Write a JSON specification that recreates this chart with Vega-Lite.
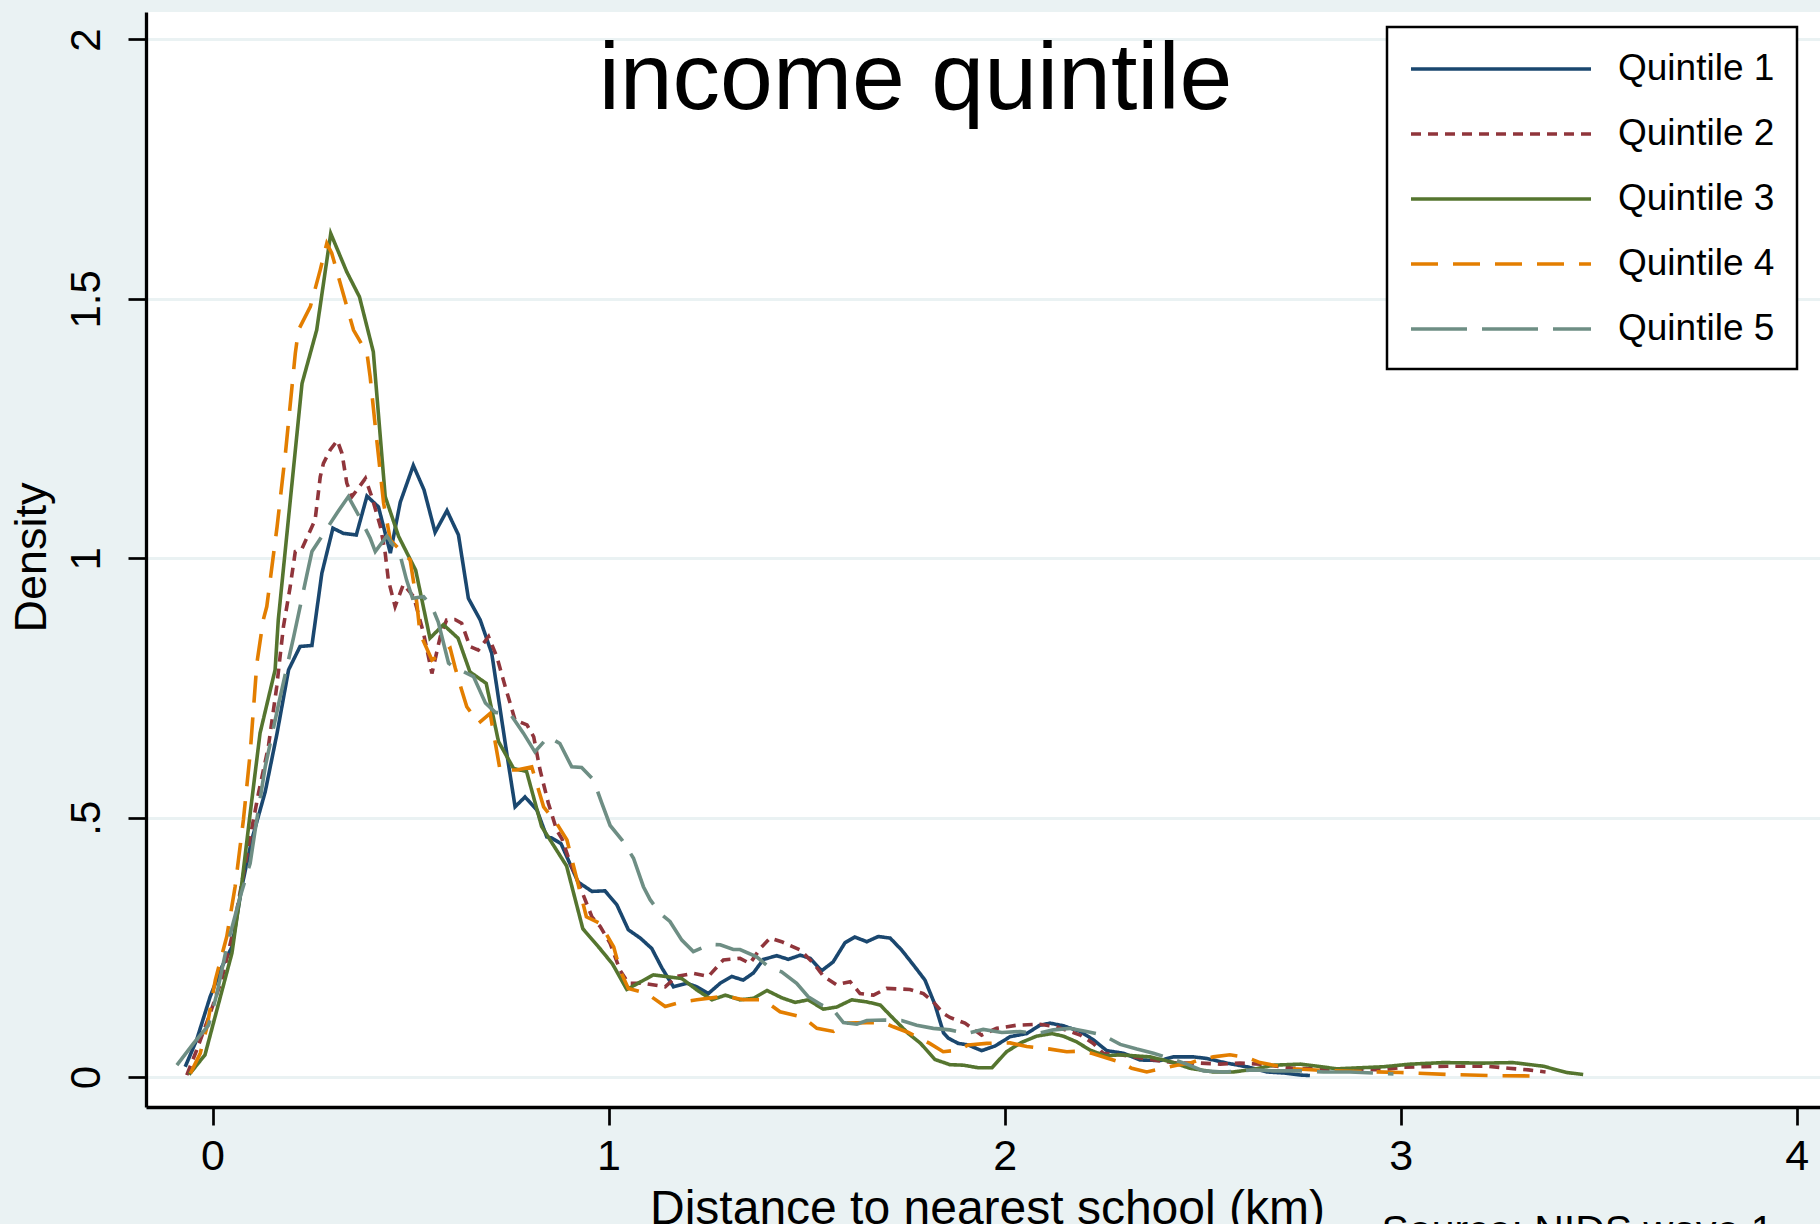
{
"$schema":"https://vega.github.io/schema/vega-lite/v6.json",
"width":1674,"height":1095,
"autosize":{"type":"none"},
"padding":{"left":146,"top":12,"right":0,"bottom":117},
"background":"#eaf2f3",
"config":{"view":{"fill":"white","stroke":null},"font":"Liberation Sans",
"legend":{"orient":"none","legendX":1241,"legendY":15,"title":null,"symbolType":"M-1,0H9","symbolSize":1296,"symbolStrokeWidth":3.5,"symbolFillColor":"transparent","labelFontSize":37,"labelOffset":169,"labelFont":"Liberation Sans","labelColor":"#000","padding":22,"rowPadding":27,"strokeColor":"#000","strokeWidth":2.5,"fillColor":"white","labelLimit":0}},
"data":{"values":[
{"q":"Quintile 1","x":-0.069,"y":0.020},{"q":"Quintile 1","x":-0.040,"y":0.072},{"q":"Quintile 1","x":-0.006,"y":0.155},{"q":"Quintile 1","x":0.024,"y":0.213},{"q":"Quintile 1","x":0.049,"y":0.251},{"q":"Quintile 1","x":0.074,"y":0.367},{"q":"Quintile 1","x":0.099,"y":0.457},{"q":"Quintile 1","x":0.133,"y":0.550},{"q":"Quintile 1","x":0.163,"y":0.663},{"q":"Quintile 1","x":0.192,"y":0.785},{"q":"Quintile 1","x":0.221,"y":0.830},{"q":"Quintile 1","x":0.251,"y":0.832},{"q":"Quintile 1","x":0.276,"y":0.971},{"q":"Quintile 1","x":0.304,"y":1.058},{"q":"Quintile 1","x":0.331,"y":1.048},{"q":"Quintile 1","x":0.363,"y":1.045},{"q":"Quintile 1","x":0.390,"y":1.120},{"q":"Quintile 1","x":0.419,"y":1.099},{"q":"Quintile 1","x":0.449,"y":1.010},{"q":"Quintile 1","x":0.474,"y":1.108},{"q":"Quintile 1","x":0.507,"y":1.179},{"q":"Quintile 1","x":0.534,"y":1.132},{"q":"Quintile 1","x":0.562,"y":1.050},{"q":"Quintile 1","x":0.592,"y":1.092},{"q":"Quintile 1","x":0.621,"y":1.045},{"q":"Quintile 1","x":0.646,"y":0.923},{"q":"Quintile 1","x":0.676,"y":0.881},{"q":"Quintile 1","x":0.705,"y":0.817},{"q":"Quintile 1","x":0.743,"y":0.624},{"q":"Quintile 1","x":0.764,"y":0.521},{"q":"Quintile 1","x":0.789,"y":0.540},{"q":"Quintile 1","x":0.819,"y":0.515},{"q":"Quintile 1","x":0.844,"y":0.463},{"q":"Quintile 1","x":0.856,"y":0.461},{"q":"Quintile 1","x":0.880,"y":0.450},{"q":"Quintile 1","x":0.923,"y":0.376},{"q":"Quintile 1","x":0.958,"y":0.358},{"q":"Quintile 1","x":0.991,"y":0.359},{"q":"Quintile 1","x":1.021,"y":0.332},{"q":"Quintile 1","x":1.050,"y":0.284},{"q":"Quintile 1","x":1.080,"y":0.268},{"q":"Quintile 1","x":1.109,"y":0.248},{"q":"Quintile 1","x":1.135,"y":0.210},{"q":"Quintile 1","x":1.164,"y":0.174},{"q":"Quintile 1","x":1.198,"y":0.181},{"q":"Quintile 1","x":1.223,"y":0.174},{"q":"Quintile 1","x":1.252,"y":0.161},{"q":"Quintile 1","x":1.282,"y":0.181},{"q":"Quintile 1","x":1.311,"y":0.194},{"q":"Quintile 1","x":1.340,"y":0.187},{"q":"Quintile 1","x":1.366,"y":0.201},{"q":"Quintile 1","x":1.391,"y":0.227},{"q":"Quintile 1","x":1.425,"y":0.234},{"q":"Quintile 1","x":1.454,"y":0.227},{"q":"Quintile 1","x":1.484,"y":0.235},{"q":"Quintile 1","x":1.509,"y":0.229},{"q":"Quintile 1","x":1.538,"y":0.205},{"q":"Quintile 1","x":1.567,"y":0.222},{"q":"Quintile 1","x":1.597,"y":0.259},{"q":"Quintile 1","x":1.622,"y":0.270},{"q":"Quintile 1","x":1.652,"y":0.261},{"q":"Quintile 1","x":1.681,"y":0.271},{"q":"Quintile 1","x":1.711,"y":0.268},{"q":"Quintile 1","x":1.740,"y":0.245},{"q":"Quintile 1","x":1.770,"y":0.216},{"q":"Quintile 1","x":1.799,"y":0.187},{"q":"Quintile 1","x":1.824,"y":0.140},{"q":"Quintile 1","x":1.846,"y":0.085},{"q":"Quintile 1","x":1.858,"y":0.075},{"q":"Quintile 1","x":1.883,"y":0.065},{"q":"Quintile 1","x":1.908,"y":0.062},{"q":"Quintile 1","x":1.942,"y":0.051},{"q":"Quintile 1","x":1.976,"y":0.060},{"q":"Quintile 1","x":2.014,"y":0.078},{"q":"Quintile 1","x":2.056,"y":0.084},{"q":"Quintile 1","x":2.089,"y":0.100},{"q":"Quintile 1","x":2.115,"y":0.104},{"q":"Quintile 1","x":2.148,"y":0.099},{"q":"Quintile 1","x":2.191,"y":0.088},{"q":"Quintile 1","x":2.224,"y":0.072},{"q":"Quintile 1","x":2.258,"y":0.051},{"q":"Quintile 1","x":2.300,"y":0.046},{"q":"Quintile 1","x":2.342,"y":0.033},{"q":"Quintile 1","x":2.393,"y":0.032},{"q":"Quintile 1","x":2.426,"y":0.039},{"q":"Quintile 1","x":2.477,"y":0.039},{"q":"Quintile 1","x":2.510,"y":0.036},{"q":"Quintile 1","x":2.561,"y":0.027},{"q":"Quintile 1","x":2.611,"y":0.020},{"q":"Quintile 1","x":2.662,"y":0.010},{"q":"Quintile 1","x":2.704,"y":0.008},{"q":"Quintile 1","x":2.747,"y":0.004},{"q":"Quintile 1","x":2.771,"y":0.003},
{"q":"Quintile 2","x":-0.065,"y":0.004},{"q":"Quintile 2","x":-0.040,"y":0.052},{"q":"Quintile 2","x":-0.006,"y":0.123},{"q":"Quintile 2","x":0.023,"y":0.187},{"q":"Quintile 2","x":0.049,"y":0.271},{"q":"Quintile 2","x":0.074,"y":0.374},{"q":"Quintile 2","x":0.095,"y":0.463},{"q":"Quintile 2","x":0.116,"y":0.547},{"q":"Quintile 2","x":0.141,"y":0.637},{"q":"Quintile 2","x":0.162,"y":0.752},{"q":"Quintile 2","x":0.179,"y":0.868},{"q":"Quintile 2","x":0.196,"y":0.945},{"q":"Quintile 2","x":0.209,"y":1.013},{"q":"Quintile 2","x":0.226,"y":1.019},{"q":"Quintile 2","x":0.259,"y":1.074},{"q":"Quintile 2","x":0.272,"y":1.157},{"q":"Quintile 2","x":0.280,"y":1.183},{"q":"Quintile 2","x":0.297,"y":1.209},{"q":"Quintile 2","x":0.315,"y":1.227},{"q":"Quintile 2","x":0.327,"y":1.202},{"q":"Quintile 2","x":0.339,"y":1.145},{"q":"Quintile 2","x":0.352,"y":1.119},{"q":"Quintile 2","x":0.365,"y":1.132},{"q":"Quintile 2","x":0.386,"y":1.154},{"q":"Quintile 2","x":0.402,"y":1.119},{"q":"Quintile 2","x":0.424,"y":1.061},{"q":"Quintile 2","x":0.436,"y":1.010},{"q":"Quintile 2","x":0.444,"y":0.958},{"q":"Quintile 2","x":0.461,"y":0.907},{"q":"Quintile 2","x":0.482,"y":0.950},{"q":"Quintile 2","x":0.508,"y":0.926},{"q":"Quintile 2","x":0.533,"y":0.855},{"q":"Quintile 2","x":0.554,"y":0.778},{"q":"Quintile 2","x":0.575,"y":0.849},{"q":"Quintile 2","x":0.591,"y":0.881},{"q":"Quintile 2","x":0.612,"y":0.882},{"q":"Quintile 2","x":0.629,"y":0.875},{"q":"Quintile 2","x":0.650,"y":0.830},{"q":"Quintile 2","x":0.671,"y":0.823},{"q":"Quintile 2","x":0.697,"y":0.849},{"q":"Quintile 2","x":0.718,"y":0.810},{"q":"Quintile 2","x":0.739,"y":0.753},{"q":"Quintile 2","x":0.764,"y":0.688},{"q":"Quintile 2","x":0.794,"y":0.679},{"q":"Quintile 2","x":0.811,"y":0.656},{"q":"Quintile 2","x":0.827,"y":0.592},{"q":"Quintile 2","x":0.848,"y":0.528},{"q":"Quintile 2","x":0.869,"y":0.476},{"q":"Quintile 2","x":0.882,"y":0.460},{"q":"Quintile 2","x":0.900,"y":0.420},{"q":"Quintile 2","x":0.958,"y":0.309},{"q":"Quintile 2","x":0.979,"y":0.290},{"q":"Quintile 2","x":1.004,"y":0.258},{"q":"Quintile 2","x":1.029,"y":0.206},{"q":"Quintile 2","x":1.050,"y":0.181},{"q":"Quintile 2","x":1.088,"y":0.181},{"q":"Quintile 2","x":1.143,"y":0.174},{"q":"Quintile 2","x":1.172,"y":0.194},{"q":"Quintile 2","x":1.214,"y":0.200},{"q":"Quintile 2","x":1.252,"y":0.194},{"q":"Quintile 2","x":1.290,"y":0.226},{"q":"Quintile 2","x":1.332,"y":0.229},{"q":"Quintile 2","x":1.357,"y":0.219},{"q":"Quintile 2","x":1.383,"y":0.248},{"q":"Quintile 2","x":1.408,"y":0.268},{"q":"Quintile 2","x":1.437,"y":0.261},{"q":"Quintile 2","x":1.484,"y":0.245},{"q":"Quintile 2","x":1.518,"y":0.219},{"q":"Quintile 2","x":1.543,"y":0.194},{"q":"Quintile 2","x":1.576,"y":0.178},{"q":"Quintile 2","x":1.610,"y":0.184},{"q":"Quintile 2","x":1.635,"y":0.161},{"q":"Quintile 2","x":1.669,"y":0.158},{"q":"Quintile 2","x":1.702,"y":0.171},{"q":"Quintile 2","x":1.761,"y":0.169},{"q":"Quintile 2","x":1.795,"y":0.161},{"q":"Quintile 2","x":1.820,"y":0.145},{"q":"Quintile 2","x":1.845,"y":0.123},{"q":"Quintile 2","x":1.862,"y":0.115},{"q":"Quintile 2","x":1.900,"y":0.104},{"q":"Quintile 2","x":1.942,"y":0.081},{"q":"Quintile 2","x":1.980,"y":0.094},{"q":"Quintile 2","x":2.030,"y":0.100},{"q":"Quintile 2","x":2.089,"y":0.102},{"q":"Quintile 2","x":2.131,"y":0.097},{"q":"Quintile 2","x":2.191,"y":0.081},{"q":"Quintile 2","x":2.224,"y":0.065},{"q":"Quintile 2","x":2.249,"y":0.046},{"q":"Quintile 2","x":2.292,"y":0.043},{"q":"Quintile 2","x":2.376,"y":0.033},{"q":"Quintile 2","x":2.435,"y":0.027},{"q":"Quintile 2","x":2.494,"y":0.027},{"q":"Quintile 2","x":2.544,"y":0.025},{"q":"Quintile 2","x":2.595,"y":0.027},{"q":"Quintile 2","x":2.645,"y":0.025},{"q":"Quintile 2","x":2.729,"y":0.017},{"q":"Quintile 2","x":2.850,"y":0.015},{"q":"Quintile 2","x":2.957,"y":0.014},{"q":"Quintile 2","x":3.007,"y":0.019},{"q":"Quintile 2","x":3.058,"y":0.020},{"q":"Quintile 2","x":3.117,"y":0.021},{"q":"Quintile 2","x":3.218,"y":0.021},{"q":"Quintile 2","x":3.273,"y":0.017},{"q":"Quintile 2","x":3.323,"y":0.014},{"q":"Quintile 2","x":3.366,"y":0.010},
{"q":"Quintile 3","x":-0.059,"y":0.005},{"q":"Quintile 3","x":-0.019,"y":0.043},{"q":"Quintile 3","x":0.049,"y":0.239},{"q":"Quintile 3","x":0.074,"y":0.374},{"q":"Quintile 3","x":0.095,"y":0.508},{"q":"Quintile 3","x":0.120,"y":0.663},{"q":"Quintile 3","x":0.158,"y":0.785},{"q":"Quintile 3","x":0.166,"y":0.881},{"q":"Quintile 3","x":0.226,"y":1.337},{"q":"Quintile 3","x":0.263,"y":1.440},{"q":"Quintile 3","x":0.2985,"y":1.626},{"q":"Quintile 3","x":0.339,"y":1.552},{"q":"Quintile 3","x":0.371,"y":1.504},{"q":"Quintile 3","x":0.406,"y":1.398},{"q":"Quintile 3","x":0.436,"y":1.119},{"q":"Quintile 3","x":0.470,"y":1.042},{"q":"Quintile 3","x":0.513,"y":0.977},{"q":"Quintile 3","x":0.549,"y":0.846},{"q":"Quintile 3","x":0.583,"y":0.872},{"q":"Quintile 3","x":0.620,"y":0.846},{"q":"Quintile 3","x":0.650,"y":0.781},{"q":"Quintile 3","x":0.691,"y":0.759},{"q":"Quintile 3","x":0.722,"y":0.647},{"q":"Quintile 3","x":0.760,"y":0.595},{"q":"Quintile 3","x":0.793,"y":0.589},{"q":"Quintile 3","x":0.831,"y":0.483},{"q":"Quintile 3","x":0.894,"y":0.407},{"q":"Quintile 3","x":0.935,"y":0.286},{"q":"Quintile 3","x":0.978,"y":0.248},{"q":"Quintile 3","x":1.010,"y":0.218},{"q":"Quintile 3","x":1.046,"y":0.169},{"q":"Quintile 3","x":1.113,"y":0.197},{"q":"Quintile 3","x":1.185,"y":0.190},{"q":"Quintile 3","x":1.223,"y":0.168},{"q":"Quintile 3","x":1.261,"y":0.149},{"q":"Quintile 3","x":1.295,"y":0.158},{"q":"Quintile 3","x":1.332,"y":0.149},{"q":"Quintile 3","x":1.366,"y":0.152},{"q":"Quintile 3","x":1.400,"y":0.167},{"q":"Quintile 3","x":1.437,"y":0.153},{"q":"Quintile 3","x":1.471,"y":0.144},{"q":"Quintile 3","x":1.504,"y":0.149},{"q":"Quintile 3","x":1.542,"y":0.131},{"q":"Quintile 3","x":1.576,"y":0.135},{"q":"Quintile 3","x":1.614,"y":0.149},{"q":"Quintile 3","x":1.652,"y":0.145},{"q":"Quintile 3","x":1.686,"y":0.139},{"q":"Quintile 3","x":1.719,"y":0.113},{"q":"Quintile 3","x":1.757,"y":0.084},{"q":"Quintile 3","x":1.788,"y":0.065},{"q":"Quintile 3","x":1.824,"y":0.034},{"q":"Quintile 3","x":1.862,"y":0.024},{"q":"Quintile 3","x":1.896,"y":0.023},{"q":"Quintile 3","x":1.934,"y":0.018},{"q":"Quintile 3","x":1.968,"y":0.018},{"q":"Quintile 3","x":2.005,"y":0.049},{"q":"Quintile 3","x":2.043,"y":0.067},{"q":"Quintile 3","x":2.081,"y":0.079},{"q":"Quintile 3","x":2.119,"y":0.084},{"q":"Quintile 3","x":2.148,"y":0.079},{"q":"Quintile 3","x":2.182,"y":0.068},{"q":"Quintile 3","x":2.216,"y":0.052},{"q":"Quintile 3","x":2.254,"y":0.041},{"q":"Quintile 3","x":2.292,"y":0.043},{"q":"Quintile 3","x":2.367,"y":0.039},{"q":"Quintile 3","x":2.418,"y":0.030},{"q":"Quintile 3","x":2.468,"y":0.017},{"q":"Quintile 3","x":2.527,"y":0.010},{"q":"Quintile 3","x":2.578,"y":0.010},{"q":"Quintile 3","x":2.628,"y":0.015},{"q":"Quintile 3","x":2.679,"y":0.023},{"q":"Quintile 3","x":2.747,"y":0.025},{"q":"Quintile 3","x":2.780,"y":0.022},{"q":"Quintile 3","x":2.839,"y":0.016},{"q":"Quintile 3","x":2.957,"y":0.020},{"q":"Quintile 3","x":3.024,"y":0.025},{"q":"Quintile 3","x":3.108,"y":0.028},{"q":"Quintile 3","x":3.209,"y":0.027},{"q":"Quintile 3","x":3.284,"y":0.028},{"q":"Quintile 3","x":3.360,"y":0.021},{"q":"Quintile 3","x":3.419,"y":0.009},{"q":"Quintile 3","x":3.461,"y":0.005},
{"q":"Quintile 4","x":-0.056,"y":0.007},{"q":"Quintile 4","x":-0.031,"y":0.046},{"q":"Quintile 4","x":-0.014,"y":0.097},{"q":"Quintile 4","x":0.007,"y":0.187},{"q":"Quintile 4","x":0.036,"y":0.271},{"q":"Quintile 4","x":0.057,"y":0.367},{"q":"Quintile 4","x":0.078,"y":0.496},{"q":"Quintile 4","x":0.095,"y":0.624},{"q":"Quintile 4","x":0.112,"y":0.798},{"q":"Quintile 4","x":0.128,"y":0.881},{"q":"Quintile 4","x":0.137,"y":0.907},{"q":"Quintile 4","x":0.163,"y":1.061},{"q":"Quintile 4","x":0.184,"y":1.202},{"q":"Quintile 4","x":0.209,"y":1.395},{"q":"Quintile 4","x":0.217,"y":1.440},{"q":"Quintile 4","x":0.247,"y":1.485},{"q":"Quintile 4","x":0.272,"y":1.556},{"q":"Quintile 4","x":0.2885,"y":1.607},{"q":"Quintile 4","x":0.301,"y":1.588},{"q":"Quintile 4","x":0.356,"y":1.440},{"q":"Quintile 4","x":0.390,"y":1.395},{"q":"Quintile 4","x":0.398,"y":1.350},{"q":"Quintile 4","x":0.411,"y":1.254},{"q":"Quintile 4","x":0.432,"y":1.106},{"q":"Quintile 4","x":0.449,"y":1.035},{"q":"Quintile 4","x":0.499,"y":0.997},{"q":"Quintile 4","x":0.516,"y":0.913},{"q":"Quintile 4","x":0.524,"y":0.855},{"q":"Quintile 4","x":0.554,"y":0.804},{"q":"Quintile 4","x":0.600,"y":0.827},{"q":"Quintile 4","x":0.613,"y":0.788},{"q":"Quintile 4","x":0.629,"y":0.746},{"q":"Quintile 4","x":0.642,"y":0.714},{"q":"Quintile 4","x":0.672,"y":0.682},{"q":"Quintile 4","x":0.701,"y":0.701},{"q":"Quintile 4","x":0.726,"y":0.592},{"q":"Quintile 4","x":0.768,"y":0.592},{"q":"Quintile 4","x":0.806,"y":0.598},{"q":"Quintile 4","x":0.836,"y":0.521},{"q":"Quintile 4","x":0.869,"y":0.489},{"q":"Quintile 4","x":0.895,"y":0.457},{"q":"Quintile 4","x":0.944,"y":0.309},{"q":"Quintile 4","x":0.979,"y":0.296},{"q":"Quintile 4","x":1.013,"y":0.251},{"q":"Quintile 4","x":1.029,"y":0.206},{"q":"Quintile 4","x":1.050,"y":0.171},{"q":"Quintile 4","x":1.097,"y":0.161},{"q":"Quintile 4","x":1.143,"y":0.136},{"q":"Quintile 4","x":1.185,"y":0.145},{"q":"Quintile 4","x":1.223,"y":0.149},{"q":"Quintile 4","x":1.294,"y":0.156},{"q":"Quintile 4","x":1.341,"y":0.149},{"q":"Quintile 4","x":1.391,"y":0.149},{"q":"Quintile 4","x":1.433,"y":0.126},{"q":"Quintile 4","x":1.492,"y":0.115},{"q":"Quintile 4","x":1.526,"y":0.094},{"q":"Quintile 4","x":1.568,"y":0.088},{"q":"Quintile 4","x":1.601,"y":0.104},{"q":"Quintile 4","x":1.652,"y":0.105},{"q":"Quintile 4","x":1.694,"y":0.105},{"q":"Quintile 4","x":1.719,"y":0.097},{"q":"Quintile 4","x":1.757,"y":0.086},{"q":"Quintile 4","x":1.811,"y":0.065},{"q":"Quintile 4","x":1.845,"y":0.049},{"q":"Quintile 4","x":1.883,"y":0.052},{"q":"Quintile 4","x":1.908,"y":0.062},{"q":"Quintile 4","x":1.955,"y":0.065},{"q":"Quintile 4","x":2.014,"y":0.066},{"q":"Quintile 4","x":2.056,"y":0.059},{"q":"Quintile 4","x":2.115,"y":0.054},{"q":"Quintile 4","x":2.157,"y":0.049},{"q":"Quintile 4","x":2.191,"y":0.050},{"q":"Quintile 4","x":2.220,"y":0.046},{"q":"Quintile 4","x":2.262,"y":0.036},{"q":"Quintile 4","x":2.296,"y":0.028},{"q":"Quintile 4","x":2.321,"y":0.017},{"q":"Quintile 4","x":2.359,"y":0.010},{"q":"Quintile 4","x":2.401,"y":0.017},{"q":"Quintile 4","x":2.435,"y":0.023},{"q":"Quintile 4","x":2.468,"y":0.027},{"q":"Quintile 4","x":2.494,"y":0.034},{"q":"Quintile 4","x":2.527,"y":0.039},{"q":"Quintile 4","x":2.569,"y":0.043},{"q":"Quintile 4","x":2.611,"y":0.038},{"q":"Quintile 4","x":2.645,"y":0.028},{"q":"Quintile 4","x":2.679,"y":0.023},{"q":"Quintile 4","x":2.729,"y":0.016},{"q":"Quintile 4","x":2.830,"y":0.012},{"q":"Quintile 4","x":2.999,"y":0.009},{"q":"Quintile 4","x":3.125,"y":0.005},{"q":"Quintile 4","x":3.226,"y":0.003},{"q":"Quintile 4","x":3.361,"y":0.002},
{"q":"Quintile 5","x":-0.090,"y":0.023},{"q":"Quintile 5","x":-0.048,"y":0.065},{"q":"Quintile 5","x":-0.010,"y":0.100},{"q":"Quintile 5","x":0.011,"y":0.161},{"q":"Quintile 5","x":0.036,"y":0.251},{"q":"Quintile 5","x":0.070,"y":0.348},{"q":"Quintile 5","x":0.095,"y":0.412},{"q":"Quintile 5","x":0.107,"y":0.473},{"q":"Quintile 5","x":0.133,"y":0.598},{"q":"Quintile 5","x":0.167,"y":0.720},{"q":"Quintile 5","x":0.205,"y":0.849},{"q":"Quintile 5","x":0.239,"y":0.971},{"q":"Quintile 5","x":0.251,"y":1.013},{"q":"Quintile 5","x":0.314,"y":1.087},{"q":"Quintile 5","x":0.343,"y":1.119},{"q":"Quintile 5","x":0.373,"y":1.077},{"q":"Quintile 5","x":0.398,"y":1.039},{"q":"Quintile 5","x":0.411,"y":1.013},{"q":"Quintile 5","x":0.440,"y":1.043},{"q":"Quintile 5","x":0.474,"y":1.005},{"q":"Quintile 5","x":0.490,"y":0.958},{"q":"Quintile 5","x":0.505,"y":0.923},{"q":"Quintile 5","x":0.533,"y":0.926},{"q":"Quintile 5","x":0.554,"y":0.907},{"q":"Quintile 5","x":0.570,"y":0.877},{"q":"Quintile 5","x":0.596,"y":0.798},{"q":"Quintile 5","x":0.608,"y":0.791},{"q":"Quintile 5","x":0.659,"y":0.772},{"q":"Quintile 5","x":0.689,"y":0.721},{"q":"Quintile 5","x":0.714,"y":0.703},{"q":"Quintile 5","x":0.751,"y":0.701},{"q":"Quintile 5","x":0.785,"y":0.663},{"q":"Quintile 5","x":0.814,"y":0.627},{"q":"Quintile 5","x":0.848,"y":0.656},{"q":"Quintile 5","x":0.877,"y":0.643},{"q":"Quintile 5","x":0.907,"y":0.598},{"q":"Quintile 5","x":0.932,"y":0.597},{"q":"Quintile 5","x":0.962,"y":0.573},{"q":"Quintile 5","x":0.983,"y":0.528},{"q":"Quintile 5","x":1.004,"y":0.485},{"q":"Quintile 5","x":1.034,"y":0.457},{"q":"Quintile 5","x":1.063,"y":0.422},{"q":"Quintile 5","x":1.088,"y":0.367},{"q":"Quintile 5","x":1.105,"y":0.342},{"q":"Quintile 5","x":1.130,"y":0.316},{"q":"Quintile 5","x":1.155,"y":0.300},{"q":"Quintile 5","x":1.185,"y":0.264},{"q":"Quintile 5","x":1.214,"y":0.242},{"q":"Quintile 5","x":1.256,"y":0.256},{"q":"Quintile 5","x":1.282,"y":0.255},{"q":"Quintile 5","x":1.315,"y":0.246},{"q":"Quintile 5","x":1.332,"y":0.246},{"q":"Quintile 5","x":1.374,"y":0.232},{"q":"Quintile 5","x":1.408,"y":0.210},{"q":"Quintile 5","x":1.437,"y":0.203},{"q":"Quintile 5","x":1.475,"y":0.181},{"q":"Quintile 5","x":1.504,"y":0.155},{"q":"Quintile 5","x":1.538,"y":0.139},{"q":"Quintile 5","x":1.568,"y":0.129},{"q":"Quintile 5","x":1.593,"y":0.105},{"q":"Quintile 5","x":1.627,"y":0.102},{"q":"Quintile 5","x":1.652,"y":0.109},{"q":"Quintile 5","x":1.694,"y":0.110},{"q":"Quintile 5","x":1.740,"y":0.109},{"q":"Quintile 5","x":1.778,"y":0.100},{"q":"Quintile 5","x":1.820,"y":0.094},{"q":"Quintile 5","x":1.862,"y":0.091},{"q":"Quintile 5","x":1.904,"y":0.084},{"q":"Quintile 5","x":1.946,"y":0.092},{"q":"Quintile 5","x":1.993,"y":0.086},{"q":"Quintile 5","x":2.039,"y":0.088},{"q":"Quintile 5","x":2.081,"y":0.084},{"q":"Quintile 5","x":2.123,"y":0.091},{"q":"Quintile 5","x":2.165,"y":0.094},{"q":"Quintile 5","x":2.207,"y":0.088},{"q":"Quintile 5","x":2.249,"y":0.081},{"q":"Quintile 5","x":2.292,"y":0.063},{"q":"Quintile 5","x":2.334,"y":0.054},{"q":"Quintile 5","x":2.376,"y":0.046},{"q":"Quintile 5","x":2.418,"y":0.036},{"q":"Quintile 5","x":2.460,"y":0.025},{"q":"Quintile 5","x":2.502,"y":0.012},{"q":"Quintile 5","x":2.553,"y":0.010},{"q":"Quintile 5","x":2.595,"y":0.012},{"q":"Quintile 5","x":2.628,"y":0.014},{"q":"Quintile 5","x":2.679,"y":0.012},{"q":"Quintile 5","x":2.747,"y":0.012},{"q":"Quintile 5","x":2.805,"y":0.010},{"q":"Quintile 5","x":2.872,"y":0.010},{"q":"Quintile 5","x":2.982,"y":0.006}
]},
"layer":[
{"mark":{"type":"line","strokeWidth":3.6,"clip":true},
"encoding":{
"x":{"field":"x","type":"quantitative","scale":{"domain":[-0.168,4.059],"nice":false,"zero":false},
"axis":{"values":[0,1,2,3,4],"format":"~g","grid":false,"domainColor":"#000","domainWidth":3.3,"tickColor":"#000","tickWidth":2.7,"tickSize":18,"labelFontSize":43,"labelColor":"#000","labelPadding":10,"labelFont":"Liberation Sans","labelFlush":false,"labelOverlap":false,"title":"Distance to nearest school (km)","titleFont":"Liberation Sans","titleFontSize":48,"titleFontWeight":"normal","titleColor":"#000","titleX":841,"titleY":116,"titleBaseline":"alphabetic","titleAlign":"center"}},
"y":{"field":"y","type":"quantitative","scale":{"domain":[-0.0576,2.053],"nice":false,"zero":false},
"axis":{"values":[0,0.5,1,1.5,2],"labelExpr":"datum.value == 0.5 ? '.5' : format(datum.value, '~g')","grid":true,"gridColor":"#eaf2f3","gridWidth":3,"domainColor":"#000","domainWidth":3.3,"tickColor":"#000","tickWidth":2.7,"tickSize":18,"labelAngle":-90,"labelAlign":"center","labelBaseline":"alphabetic","labelFontSize":42,"labelColor":"#000","labelPadding":29,"labelFont":"Liberation Sans","labelFlush":false,"labelOverlap":false,"title":"Density","titleFont":"Liberation Sans","titleFontSize":45,"titleFontWeight":"normal","titleColor":"#000","titleX":-101,"titleY":545,"titleAngle":-90,"titleBaseline":"alphabetic","titleAlign":"center"}},
"color":{"field":"q","type":"nominal","scale":{"domain":["Quintile 1","Quintile 2","Quintile 3","Quintile 4","Quintile 5"],"range":["#1a476f","#90353b","#55752f","#e37e00","#6e8e84"]},"legend":{"title":null}},
"strokeDash":{"field":"q","type":"nominal","scale":{"domain":["Quintile 1","Quintile 2","Quintile 3","Quintile 4","Quintile 5"],"range":[[1,0],[10,7],[1,0],[27,15],[56,15]]},"legend":{"title":null}}
}},
{"mark":{"type":"line","opacity":0,"clip":true},
"encoding":{
"x":{"field":"x","type":"quantitative","scale":{"domain":[-0.168,4.059],"nice":false,"zero":false},
"axis":{"orient":"top","labels":false,"ticks":false,"domain":false,"grid":false,"title":"income quintile","titleFont":"Liberation Sans","titleFontSize":95,"titleFontWeight":"normal","titleColor":"#000","titleX":769,"titleY":96,"titleAlign":"center","titleBaseline":"alphabetic","titleAngle":0}},
"y":{"field":"y","type":"quantitative","scale":{"domain":[-0.0576,2.053],"nice":false,"zero":false},
"axis":{"orient":"right","labels":false,"ticks":false,"domain":false,"grid":false,"title":"Source: NIDS wave 1","titleFont":"Liberation Sans","titleFontSize":41,"titleFontWeight":"normal","titleColor":"#000","titleAngle":0,"titleX":-439,"titleY":1231,"titleAlign":"left","titleBaseline":"alphabetic"}},
"detail":{"field":"q"}
}}
],
"resolve":{"scale":{"x":"independent","y":"independent"},"axis":{"x":"independent","y":"independent"}}
}
